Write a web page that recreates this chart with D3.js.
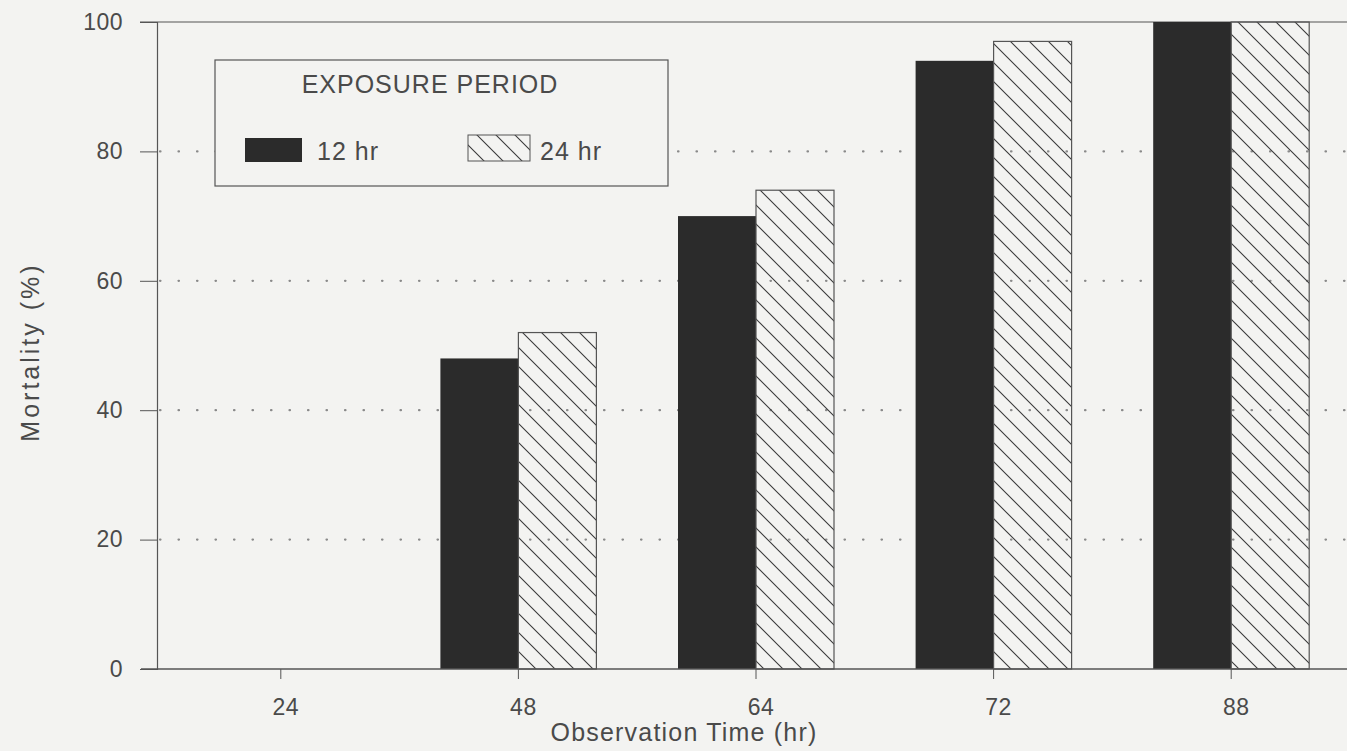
<!DOCTYPE html>
<html>
<head>
<meta charset="utf-8">
<script src="https://cdn.jsdelivr.net/npm/d3@7"></script>
<style>
  body { margin: 0; background: #f3f3f1; }
  text { font-family: "Liberation Sans", Arial, sans-serif; fill: #4a4a4a; }
</style>
</head>
<body>
<div id="chart"></div>
<script>
// observation times and mortality per exposure period
const times = ["24", "48", "64", "72", "88"];
const hr12 = [0, 48, 70, 94, 100];
const hr24 = [0, 52, 74, 97, 100];
const yTicks = [0, 20, 40, 60, 80, 100];
const gridTicks = [20, 40, 60, 80];

const width = 1347, height = 751;

const svg = d3.select('#chart').append('svg')
  .attr('width', width)
  .attr('height', height);

// hatch pattern for the 24 hr bars
const defs = svg.append('defs');
defs.append('pattern')
  .attr('id', 'hatch')
  .attr('patternUnits', 'userSpaceOnUse')
  .attr('width', 19)
  .attr('height', 19)
  .append('path')
  .attr('d', 'M-1,-1 L20,20 M-20,-1 L1,20 M18,-1 L39,20')
  .attr('stroke', '#3a3a3a')
  .attr('stroke-width', 1.1);

const x = d3.scaleBand()
  .domain(times)
  .range([162, 1350]);

const y = d3.scaleLinear()
  .domain([0, 100])
  .range([669, 22]);

const barW = 78;

// dotted grid lines
svg.append('g').selectAll('line')
  .data(gridTicks)
  .enter().append('line')
  .attr('x1', 160).attr('x2', width)
  .attr('y1', d => y(d)).attr('y2', d => y(d))
  .attr('stroke', '#8a8a8a')
  .attr('stroke-width', 2.2)
  .attr('stroke-linecap', 'round')
  .attr('stroke-dasharray', '0.5,18');

// top frame line
svg.append('line')
  .attr('x1', 140).attr('x2', width)
  .attr('y1', y(100)).attr('y2', y(100))
  .attr('stroke', '#555').attr('stroke-width', 1.2);

// y axis
const yAxis = svg.append('g')
  .attr('transform', 'translate(157,0)')
  .call(d3.axisLeft(y).tickValues(yTicks).tickSize(17).tickPadding(17));
yAxis.select('.domain').attr('stroke', '#555').attr('stroke-width', 1.2);
yAxis.selectAll('.tick line').attr('stroke', '#555');
yAxis.selectAll('text')
  .style('font-size', '23px')
  .style('letter-spacing', '0.5px')
  .attr('fill', '#4a4a4a');

// bars
const groups = svg.append('g').selectAll('g')
  .data(times)
  .enter().append('g');

groups.append('rect')
  .attr('x', d => x(d) + x.bandwidth() / 2 - barW)
  .attr('y', (d, i) => y(hr12[i]))
  .attr('width', barW)
  .attr('height', (d, i) => y(0) - y(hr12[i]))
  .attr('fill', '#2b2b2b');

groups.append('rect')
  .attr('x', d => x(d) + x.bandwidth() / 2)
  .attr('y', (d, i) => y(hr24[i]))
  .attr('width', barW)
  .attr('height', (d, i) => y(0) - y(hr24[i]))
  .attr('fill', 'url(#hatch)')
  .attr('stroke', (d, i) => hr24[i] > 0 ? '#555' : 'none')
  .attr('stroke-width', 1.2);

// x axis
const xAxis = svg.append('g')
  .attr('transform', `translate(0,${y(0)})`)
  .call(d3.axisBottom(x).tickSize(10).tickPadding(20));
xAxis.select('.domain').remove();
xAxis.selectAll('.tick line').attr('stroke', '#555');
xAxis.selectAll('text')
  .attr('dx', 5)
  .style('font-size', '23px')
  .style('letter-spacing', '0.5px')
  .attr('fill', '#4a4a4a');
svg.append('line')
  .attr('x1', 141).attr('x2', width)
  .attr('y1', y(0)).attr('y2', y(0))
  .attr('stroke', '#555').attr('stroke-width', 1.4);

// axis titles
svg.append('text')
  .attr('x', 684).attr('y', 741)
  .attr('text-anchor', 'middle')
  .style('font-size', '25px')
  .style('letter-spacing', '1.2px')
  .text('Observation Time (hr)');

svg.append('text')
  .attr('transform', 'translate(39,352) rotate(-90)')
  .attr('text-anchor', 'middle')
  .style('font-size', '25px')
  .style('letter-spacing', '3px')
  .text('Mortality (%)');

// legend
const legend = svg.append('g');
legend.append('rect')
  .attr('x', 215).attr('y', 60)
  .attr('width', 453).attr('height', 126)
  .attr('fill', '#f3f3f1')
  .attr('stroke', '#555').attr('stroke-width', 1.2);
legend.append('text')
  .attr('x', 430).attr('y', 93)
  .attr('text-anchor', 'middle')
  .style('font-size', '25px')
  .style('letter-spacing', '1px')
  .text('EXPOSURE PERIOD');
legend.append('rect')
  .attr('x', 245).attr('y', 138)
  .attr('width', 57).attr('height', 24)
  .attr('fill', '#2b2b2b');
legend.append('text')
  .attr('x', 317).attr('y', 160)
  .style('font-size', '25px')
  .style('letter-spacing', '1px')
  .text('12 hr');
legend.append('rect')
  .attr('x', 468).attr('y', 135)
  .attr('width', 62).attr('height', 26)
  .attr('fill', 'url(#hatch)')
  .attr('stroke', '#555').attr('stroke-width', 1);
legend.append('text')
  .attr('x', 540).attr('y', 160)
  .style('font-size', '25px')
  .style('letter-spacing', '1px')
  .text('24 hr');
</script>
</body>
</html>
